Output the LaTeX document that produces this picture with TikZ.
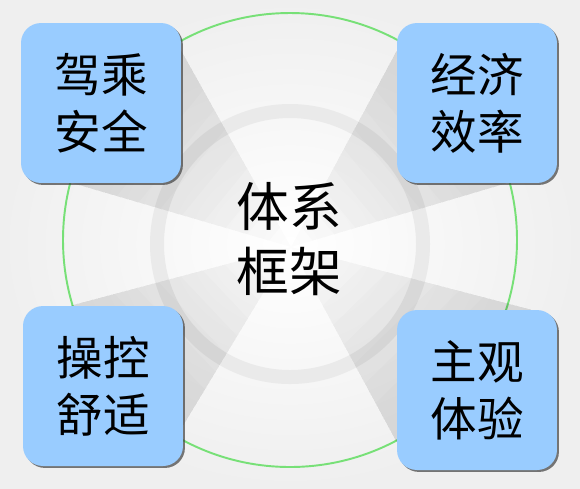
\documentclass[tikz,border=0pt]{standalone}
\usepackage{fontspec}
\usepackage{xcolor}
\usepackage{tikz}
\usetikzlibrary{calc,shadows,backgrounds}
\newfontfamily\cjk{Noto Sans CJK SC}
\definecolor{fwbleu}{HTML}{99CCFF}
\definecolor{fwvert}{HTML}{77E077}
\definecolor{fwanneau}{HTML}{EAEAEA}
\definecolor{fwfond}{HTML}{EFEFEF}

\begin{document}
\begin{tikzpicture}[x=0.02cm,y=-0.02cm,
  bloc/.style={rectangle,rounded corners=0.4cm,fill=fwbleu,
    minimum width=3.2cm,minimum height=3.2cm,align=center,
    font=\cjk\fontsize{26.5}{32.4}\selectfont,
    drop shadow={shadow xshift=1.1pt,shadow yshift=-1.1pt,fill=black!75,opacity=0.7}},
  centre/.style={align=center,font=\cjk\fontsize{30}{37}\selectfont},
  cercle/.style={draw=fwvert,line width=1.1pt},
  anneau/.style={draw=fwanneau,line width=0.28cm},
  fan/.style={fill=black,fill opacity=0.01}]
  \useasboundingbox (0,0) rectangle (580,488);
  % les quatre criteres
  \node[bloc] (secu) at (101,103) {驾乘\\安全};
  \node[bloc] (eco) at (477,103) {经济\\效率};
  \node[bloc] (ctrl) at (103,386) {操控\\舒适};
  \node[bloc] (subj) at (477,390) {主观\\体验};
  \node[centre] (sys) at (289,239) {体系\\框架};
  \coordinate (ctr) at (291,247);
  % fond, anneau, cercle et faisceaux
  \begin{scope}[on background layer]
    \shade[inner color=white,outer color=fwfond] (0,0) rectangle (580,488);
    \draw[anneau] (290,244) circle[radius=133];
    \draw[cercle] (290,240) circle[radius=227];
    \foreach \u/\v in {secu.33/secu.251,eco.147/eco.290,ctrl.112/ctrl.334,subj.56/subj.213}
      \foreach \t in {0,0.1,...,0.9}
        \fill[fan] ($(ctr)!\t!(\u)$) -- (\u) -- (\v) -- ($(ctr)!\t!(\v)$) -- cycle;
  \end{scope}
\end{tikzpicture}
\end{document}
